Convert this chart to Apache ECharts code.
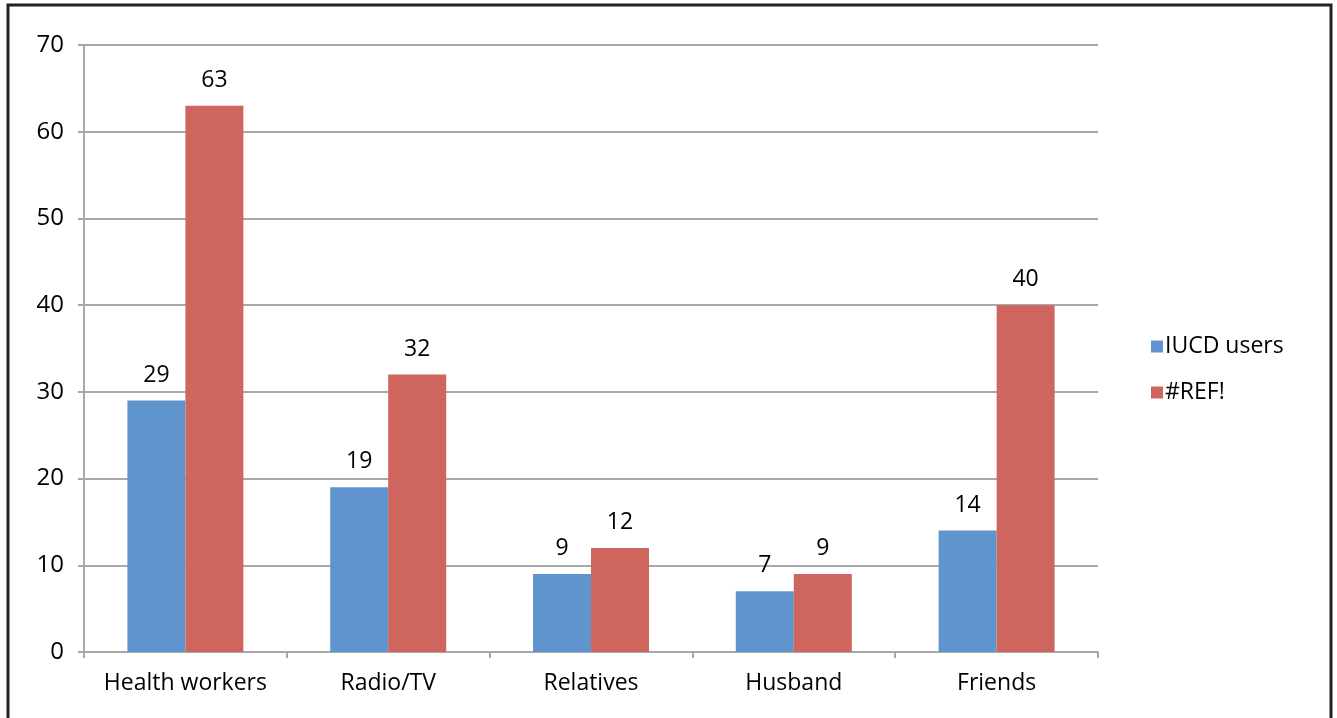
<!DOCTYPE html>
<html>
<head>
<meta charset="utf-8">
<script src="https://cdn.jsdelivr.net/npm/echarts@6/dist/echarts.min.js"></script>
<style>
  html, body { margin: 0; padding: 0; background: #fff; }
  #chart { width: 1337px; height: 718px; }
</style>
</head>
<body>
<div id="chart"></div>
<script>
const categories = ["Health workers", "Radio/TV", "Relatives", "Husband", "Friends"];
const iucdUsers = [29, 19, 9, 7, 14];
const refValues = [63, 32, 12, 9, 40];
const yTicks = { min: 0, max: 70, interval: 10 };

const FONT = "'Open Sans', 'Noto Sans', sans-serif";
const axisGray = "#a8a8a8";

const chart = echarts.init(document.getElementById("chart"), null, { renderer: "canvas" });

const barLabel = {
  show: true,
  position: "top",
  distance: 14,
  color: "#000",
  fontSize: 23,
  fontFamily: FONT,
};

chart.setOption({
  animation: false,
  backgroundColor: "#fff",
  graphic: [{
    type: "rect",
    shape: { x: 8, y: 5, width: 1323, height: 800 },
    style: { fill: "none", stroke: "#222", lineWidth: 3 },
    silent: true,
  }],
  grid: { left: 84, right: 239, top: 45, bottom: 66, containLabel: false },
  legend: {
    orient: "vertical",
    left: 1146,
    top: 330,
    itemWidth: 12,
    itemHeight: 12,
    itemGap: 23,
    icon: "rect",
    textStyle: { fontSize: 23, fontFamily: FONT, color: "#000", padding: [0, 0, 0, -3] },
    data: ["IUCD users", "#REF!"],
  },
  xAxis: {
    type: "category",
    data: categories,
    axisLine: { lineStyle: { color: axisGray, width: 2 } },
    axisTick: { show: true, interval: 0, length: 6, lineStyle: { color: axisGray, width: 2 } },
    axisLabel: { interval: 0, fontSize: 23, fontFamily: FONT, color: "#000", margin: 20 },
  },
  yAxis: {
    type: "value",
    min: yTicks.min,
    max: yTicks.max,
    interval: yTicks.interval,
    axisLine: { show: true, lineStyle: { color: axisGray, width: 2 } },
    axisTick: { show: true, inside: false, length: 6, lineStyle: { color: axisGray, width: 2 } },
    axisLabel: { fontSize: 24, fontFamily: FONT, color: "#000", margin: 20 },
    splitLine: { lineStyle: { color: axisGray, width: 2 } },
  },
  series: [
    {
      name: "IUCD users",
      type: "bar",
      data: iucdUsers,
      barWidth: 58,
      barGap: "0%",
      itemStyle: { color: "#5f95cc" },
      label: barLabel,
    },
    {
      name: "#REF!",
      type: "bar",
      data: refValues,
      barWidth: 58,
      barGap: "0%",
      itemStyle: { color: "#cf655f" },
      label: barLabel,
    },
  ],
});
</script>
</body>
</html>
